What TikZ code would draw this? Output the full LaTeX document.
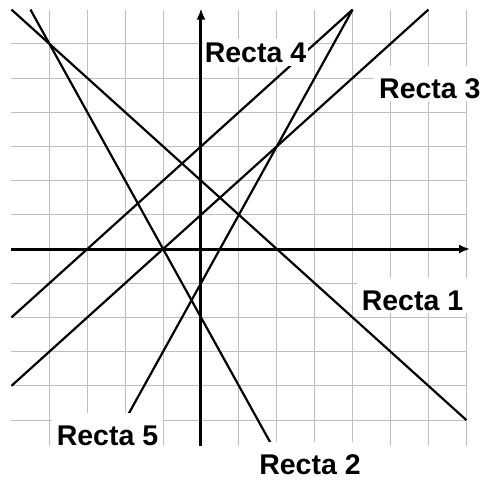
\documentclass[tikz,border=0pt]{standalone}
\usepackage{fontspec}
\setmainfont{Liberation Sans}
\usepackage{tikz}
\usepackage{xcolor}
\usetikzlibrary{arrows.meta}

\begin{document}
\begin{tikzpicture}[x=37.9pt, y=34.2pt,
  gridline/.style={gray!50, line width=1pt},
  axisline/.style={line width=3pt, -{Latex[length=11pt, width=9pt]}},
  rectaline/.style={line width=2.2pt},
  rectalabel/.style={fill=white, inner xsep=5pt, inner ysep=3pt, text height=29pt, text depth=0pt, anchor=base,
    font=\fontsize{28.5}{30}\selectfont\bfseries}]
\useasboundingbox (-201pt,-231pt) rectangle (282pt,249pt);
% cuadricula
\foreach \i in {-4,...,7}
  \draw[gridline] (\i,-5.75) -- (\i,7);
\foreach \j in {-5,...,6}
  \draw[gridline] (-5,\j) -- (7,\j);
% ejes
\coordinate (xa) at (-5,0);
\coordinate (xb) at (7.1,0);
\coordinate (ya) at (0,-5.75);
\coordinate (yb) at (0,7.03);
\draw[axisline] (xa) -- (xb);
\draw[axisline] (ya) -- (yb);
% rectas
\coordinate (r1a) at (-5,7);    \coordinate (r1b) at (7,-5);
\coordinate (r2a) at (-4.5,7);  \coordinate (r2b) at (1.875,-5.75);
\coordinate (r3a) at (-5,-4);   \coordinate (r3b) at (6,7);
\coordinate (r4a) at (-5,-2);   \coordinate (r4b) at (4,7);
\coordinate (r5a) at (-2,-5);   \coordinate (r5b) at (4,7);
\draw[rectaline] (r1a) -- (r1b);
\draw[rectaline] (r2a) -- (r2b);
\draw[rectaline] (r3a) -- (r3b);
\draw[rectaline] (r4a) -- (r4b);
\draw[rectaline] (r5a) -- (r5b);
% etiquetas
\node[rectalabel, inner xsep=2pt, text height=21pt] (R4) at (1.438,5.44) {Recta 4};
\node[rectalabel] (R3) at (6.04,4.415) {Recta 3};
\node[rectalabel] (R1) at (5.580,-1.784) {Recta 1};
\node[rectalabel] (R5) at (-2.467,-5.731) {Recta 5};
\node[rectalabel] (R2) at (2.876,-6.58) {Recta 2};
\end{tikzpicture}
\end{document}
